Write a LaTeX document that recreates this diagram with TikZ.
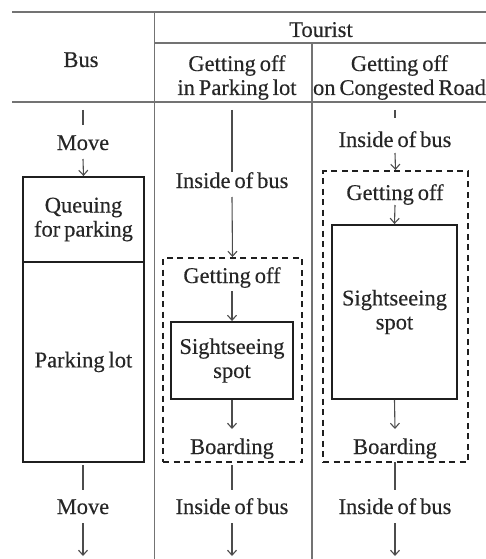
\documentclass[tikz,border=0pt]{standalone}
\usepackage{fontspec}
\setmainfont{Liberation Serif}[WordSpace=0.7, UprightFeatures={FakeBold=0.3}]
\usetikzlibrary{arrows.meta}
\begin{document}
\begin{tikzpicture}[x=1pt,y=-1pt,
  grid/.style={draw=black!55, line width=1.4pt},
  txt/.style={font=\fontsize{22.5}{24}\selectfont, inner sep=0pt, text=black!85},
  lbl/.style={txt, anchor=base},
  solidbox/.style={txt, draw=black!88, line width=1.9pt, align=center},
  dashbox/.style={draw=black!88, line width=1.9pt, dash pattern=on 6pt off 4.5pt},
  flow/.style={draw=black!70, line width=1.1pt, -{Straight Barb[length=5pt,width=9pt,line width=1.1pt]}},
  tick/.style={draw=black!70, line width=1.1pt}]
\useasboundingbox (0,0) rectangle (486,559);
% table
\draw[grid] (12,12) -- (486,12);
\draw[grid] (154.5,43) -- (486,43);
\draw[grid] (12,102) -- (486,102);
\draw[grid] (154.5,12) -- (154.5,559);
\draw[grid] (312,43) -- (312,559);
\node[lbl] (tour) at (321,37) {Tourist};
\node[lbl] (bus) at (81,67) {Bus};
\node[lbl] (h2a) at (237,71) {Getting off};
\node[lbl] (h2b) at (237,95) {in Parking lot};
\node[lbl] (h3a) at (399.5,71) {Getting off};
\node[lbl] (h3b) at (399.5,95) {on Congested Road};
% bus column
\coordinate (b0) at (83,110);
\coordinate (b1) at (83,125);
\node[lbl] (bmove1) at (83,150) {Move};
\coordinate (b2) at (83,159);
\node[solidbox, minimum width=121pt, minimum height=85pt] (queue) at (83.5,219.5) {Queuing\\for parking};
\node[solidbox, minimum width=121pt, minimum height=200pt] (park) at (83.5,362) {Parking lot};
\coordinate (b3) at (83,465);
\coordinate (b4) at (83,490);
\node[lbl] (bmove2) at (83,514) {Move};
\coordinate (b5) at (83,523);
\coordinate (b6) at (83,556);
\draw[tick] (b0) -- (b1);
\draw[flow] (b2) -- (queue.north);
\draw[tick] (b3) -- (b4);
\draw[flow] (b5) -- (b6);
% column 2
\node[dashbox, minimum width=139pt, minimum height=204pt] (d2) at (232.5,360) {};
\coordinate (p0) at (232,110);
\coordinate (p1) at (232,172);
\node[lbl] (c2in) at (232,188) {Inside of bus};
\coordinate (p2) at (232,197);
\node[lbl] (c2get) at (232,283) {Getting off};
\coordinate (p3) at (232,291);
\node[solidbox, minimum width=122pt, minimum height=77pt] (s2) at (232,360.5) {Sightseeing\\spot};
\coordinate (p4) at (232,429);
\node[lbl] (c2board) at (232,454) {Boarding};
\coordinate (p5) at (232,465);
\coordinate (p6) at (232,490);
\node[lbl] (c2in2) at (232,514) {Inside of bus};
\coordinate (p7) at (232,523);
\coordinate (p8) at (232,556);
\draw[tick] (p0) -- (p1);
\draw[flow] (p2) -- (d2.north);
\draw[flow] (p3) -- (s2.north);
\draw[flow] (s2.south) -- (p4);
\draw[tick] (p5) -- (p6);
\draw[flow] (p7) -- (p8);
% column 3
\node[dashbox, minimum width=145pt, minimum height=291pt] (d3) at (395.5,316.5) {};
\coordinate (q0) at (395,110);
\coordinate (q1) at (395,118);
\node[lbl] (c3in) at (395,147) {Inside of bus};
\coordinate (q2) at (395,153);
\node[lbl] (c3get) at (395,200) {Getting off};
\coordinate (q3) at (395,205);
\node[solidbox, minimum width=125pt, minimum height=174pt] (s3) at (394.5,312) {Sightseeing\\spot};
\coordinate (q4) at (395,429);
\node[lbl] (c3board) at (395,454) {Boarding};
\coordinate (q5) at (395,462);
\coordinate (q6) at (395,490);
\node[lbl] (c3in2) at (395,514) {Inside of bus};
\coordinate (q7) at (395,523);
\coordinate (q8) at (395,556);
\draw[tick] (q0) -- (q1);
\draw[flow] (q2) -- (d3.north);
\draw[flow] (q3) -- (s3.north);
\draw[flow] (s3.south) -- (q4);
\draw[tick] (q5) -- (q6);
\draw[flow] (q7) -- (q8);
\end{tikzpicture}
\end{document}
